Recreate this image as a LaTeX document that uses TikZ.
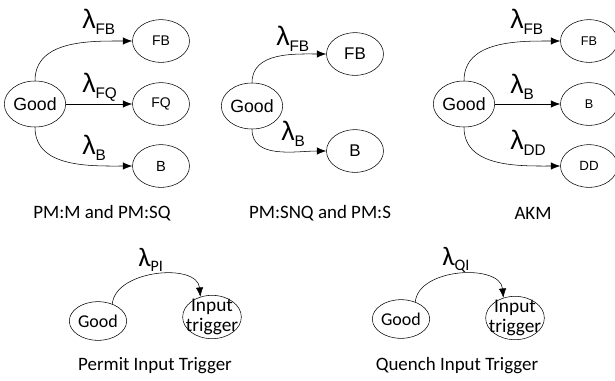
\documentclass[tikz,border=0pt]{standalone}
\usepackage{fontspec}
\setmainfont{Carlito}
\newfontfamily\arialfont{Liberation Sans}
\usetikzlibrary{shapes.geometric,arrows.meta}

\newcommand{\fsz}[1]{\fontsize{#1}{#1}\selectfont}
\newcommand{\rate}[1]{{\arialfont\fsz{20}λ\raisebox{-0.4ex}{\fsz{11.5}#1}}}
\newcommand{\ratec}[1]{{\fsz{20}λ\raisebox{-0.4ex}{\fsz{12}#1}}}

\tikzset{
  state/.style={ellipse, draw, thin, inner sep=0pt, font=\arialfont},
  good/.style={state, minimum width=43.5pt, minimum height=34.5pt, font=\arialfont\fsz{13.3}},
  fail/.style={state, minimum width=42.75pt, minimum height=32pt},
  trig/.style={ellipse, draw, thin, inner sep=-8pt, minimum width=44pt, minimum height=32.5pt,
    align=center, font=\fontsize{14.5}{15}\selectfont},
  goodc/.style={ellipse, draw, thin, inner sep=0pt, minimum width=43pt, minimum height=29pt, font=\fsz{13.5}},
  rate/.style={inner sep=0pt, anchor=west},
  caption/.style={inner sep=0pt, font=\fsz{14.2}},
  trans/.style={-{Latex[length=7pt,width=5.5pt]}, thin}
}

\begin{document}
\begin{tikzpicture}[x=0.75pt, y=-0.75pt]
\useasboundingbox (0,0) rectangle (615,380);

% PM:M and PM:SQ
\node[good] (g1) at (35,104) {Good};
\node[fail, font=\arialfont\fsz{10.5}] (fb1) at (161,41) {FB};
\node[fail, font=\arialfont\fsz{10.5}] (fq1) at (161,104) {FQ};
\node[fail, font=\arialfont\fsz{11}] (b1) at (161,166) {B};
\draw[trans] (g1.north) to[out=90,in=180] (fb1.west);
\draw[trans] (g1.east) -- (fq1.west);
\draw[trans] (g1.south) to[out=-90,in=180] (b1.west);
\node[rate] (l1) at (82,22) {\rate{FB}};
\node[rate] (l2) at (82,87) {\rate{FQ}};
\node[rate] (l3) at (82,148) {\rate{B}};
\node[caption] (c1) at (102,213) {PM:M and PM:SQ};

% PM:SNQ and PM:S
\node[good] (g2) at (252,106) {Good};
\node[fail, font=\arialfont\fsz{12.7}] (fb2) at (355,54) {FB};
\node[fail, font=\arialfont\fsz{12.7}] (b2) at (355,151) {B};
\draw[trans] (g2.north) to[out=90,in=180] (fb2.west);
\draw[trans] (g2.south) to[out=-90,in=180] (b2.west);
\node[rate] (l4) at (276,39) {\rate{FB}};
\node[rate] (l5) at (281,134) {\rate{B}};
\node[caption] (c2) at (320,213) {PM:SNQ and PM:S};

% AKM
\node[good] (g3) at (464,104) {Good};
\node[fail, font=\arialfont\fsz{9.5}] (fb3) at (589,41) {FB};
\node[fail, font=\arialfont\fsz{9.5}] (b3) at (589,104) {B};
\node[fail, font=\arialfont\fsz{10}] (dd3) at (589,166) {DD};
\draw[trans] (g3.north) to[out=90,in=180] (fb3.west);
\draw[trans] (g3.east) -- (b3.west);
\draw[trans] (g3.south) to[out=-90,in=180] (dd3.west);
\node[rate] (l6) at (510,22) {\rate{FB}};
\node[rate] (l7) at (510,87) {\rate{B}};
\node[rate] (l8) at (510,143) {\rate{DD}};
\node[caption] (c3) at (533,213) {AKM};

% Permit Input Trigger
\node[goodc] (g4) at (98,321) {Good};
\node[trig] (it4) at (212,317) {Input\\trigger};
\draw[trans] (g4.50) to[out=85,in=95] (it4.120);
\node[rate] (l9) at (138,260) {\ratec{PI}};
\node[caption] (c4) at (155,366) {Permit Input Trigger};

% Quench Input Trigger
\node[goodc] (g5) at (401,319) {Good};
\node[trig] (it5) at (515,318) {Input\\trigger};
\draw[trans] (g5.50) to[out=85,in=95] (it5.120);
\node[rate] (l10) at (442,260) {\ratec{QI}};
\node[caption] (c5) at (457,366) {Quench Input Trigger};
\end{tikzpicture}
\end{document}
